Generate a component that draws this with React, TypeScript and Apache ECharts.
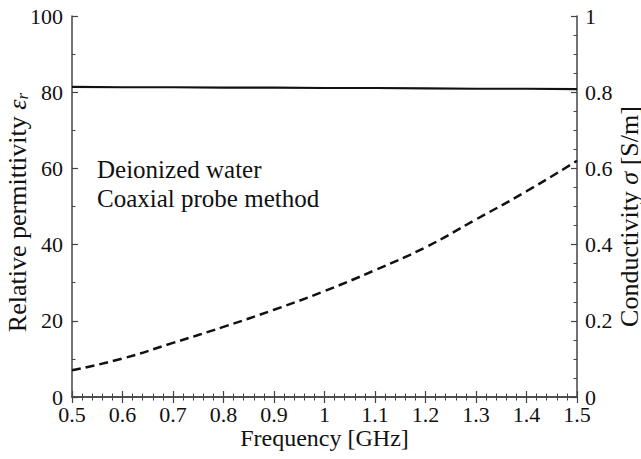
import React, { useEffect, useRef } from "react";
import * as echarts from "echarts";

const frequency = [0.5, 0.6, 0.7, 0.8, 0.9, 1.0, 1.1, 1.2, 1.3, 1.4, 1.5];
const permittivity = [81.4, 81.3, 81.3, 81.2, 81.2, 81.1, 81.1, 81.0, 80.9, 80.9, 80.8];
const conductivity = [0.07, 0.101, 0.142, 0.184, 0.229, 0.278, 0.333, 0.393, 0.466, 0.54, 0.62];
const annotation = ["Deionized water", "Coaxial probe method"];

const FONT = "Liberation Serif, serif";
const AXIS = "#444";
const TEXT = "#111";

export default function App() {
  const ref = useRef<HTMLDivElement>(null);
  useEffect(() => {
    if (!ref.current) return;
    const chart = echarts.init(ref.current, undefined, { renderer: "svg" });
    const tickCommon = { show: true, inside: true, length: 6, lineStyle: { color: AXIS, width: 1.2 } };
    const minorCommon = { show: true, length: 3.5, lineStyle: { color: AXIS, width: 1 } };
    const lineCommon = { show: true, lineStyle: { color: AXIS, width: 1.5 } };
    const labelStyle = { show: true, fontFamily: FONT, fontSize: 22, color: TEXT };
    const nameStyle = { fontFamily: FONT, fontSize: 24, color: TEXT };
    const yNameSize = 26;
    chart.setOption({
      animation: false,
      backgroundColor: "#fff",
      textStyle: { fontFamily: FONT },
      grid: { left: 72, right: 64, top: 16, bottom: 62, containLabel: false, outerBoundsMode: "none" },
      xAxis: [
        {
          type: "value",
          position: "bottom",
          min: 0.5,
          max: 1.5,
          interval: 0.1,
          name: "Frequency [GHz]",
          nameLocation: "middle",
          nameGap: 29,
          nameMoveOverlap: false,
          nameTextStyle: nameStyle,
          axisLine: lineCommon,
          axisTick: tickCommon,
          minorTick: { ...minorCommon, splitNumber: 5 },
          splitLine: { show: false },
          axisLabel: { ...labelStyle, margin: 6 },
        },
        {
          type: "value",
          position: "top",
          min: 0.5,
          max: 1.5,
          interval: 0.1,
          axisLine: lineCommon,
          axisTick: tickCommon,
          minorTick: { ...minorCommon, splitNumber: 5 },
          splitLine: { show: false },
          axisLabel: { show: false },
        },
      ],
      yAxis: [
        {
          type: "value",
          position: "left",
          min: 0,
          max: 100,
          interval: 20,
          name: "Relative permittivity {i|ε}{sub|r}",
          nameLocation: "middle",
          nameGap: 41,
          nameMoveOverlap: false,
          nameTextStyle: {
            ...nameStyle,
            fontSize: yNameSize,
            padding: [0, 12, 0, 0],
            rich: {
              i: { fontFamily: FONT, fontSize: yNameSize, fontStyle: "italic", color: TEXT },
              sub: { fontFamily: FONT, fontSize: 17, fontStyle: "italic", color: TEXT, padding: [10, 0, 0, 0] },
            },
          },
          axisLine: lineCommon,
          axisTick: tickCommon,
          minorTick: { ...minorCommon, splitNumber: 2 },
          splitLine: { show: false },
          axisLabel: { ...labelStyle, margin: 9 },
        },
        {
          type: "value",
          position: "right",
          min: 0,
          max: 1,
          interval: 0.2,
          name: "Conductivity {i|σ} [S/m]",
          nameLocation: "middle",
          nameGap: 39,
          nameRotate: 90,
          nameMoveOverlap: false,
          nameTextStyle: {
            ...nameStyle,
            fontSize: yNameSize,
            padding: [0, 20, 0, 0],
            rich: {
              i: { fontFamily: FONT, fontSize: yNameSize, fontStyle: "italic", color: TEXT },
            },
          },
          axisLine: lineCommon,
          axisTick: tickCommon,
          minorTick: { ...minorCommon, splitNumber: 4 },
          splitLine: { show: false },
          axisLabel: { ...labelStyle, margin: 8 },
        },
      ],
      graphic: annotation.map((t, i) => ({
        type: "text",
        left: 97,
        top: 157 + i * 29,
        style: { text: t, fontFamily: FONT, fontSize: 25, fill: TEXT },
      })),
      series: [
        {
          type: "line",
          xAxisIndex: 0,
          yAxisIndex: 0,
          data: frequency.map((f, i) => [f, permittivity[i]]),
          showSymbol: false,
          lineStyle: { color: "#111", width: 2.2 },
        },
        {
          type: "line",
          xAxisIndex: 0,
          yAxisIndex: 1,
          smooth: true,
          data: frequency.map((f, i) => [f, conductivity[i]]),
          showSymbol: false,
          lineStyle: { color: "#111", width: 2.5, type: [9, 5] },
        },
      ],
    });
    return () => chart.dispose();
  }, []);
  return <div ref={ref} style={{ width: 641, height: 459, position: "absolute", left: 0, top: 0 }} />;
}
